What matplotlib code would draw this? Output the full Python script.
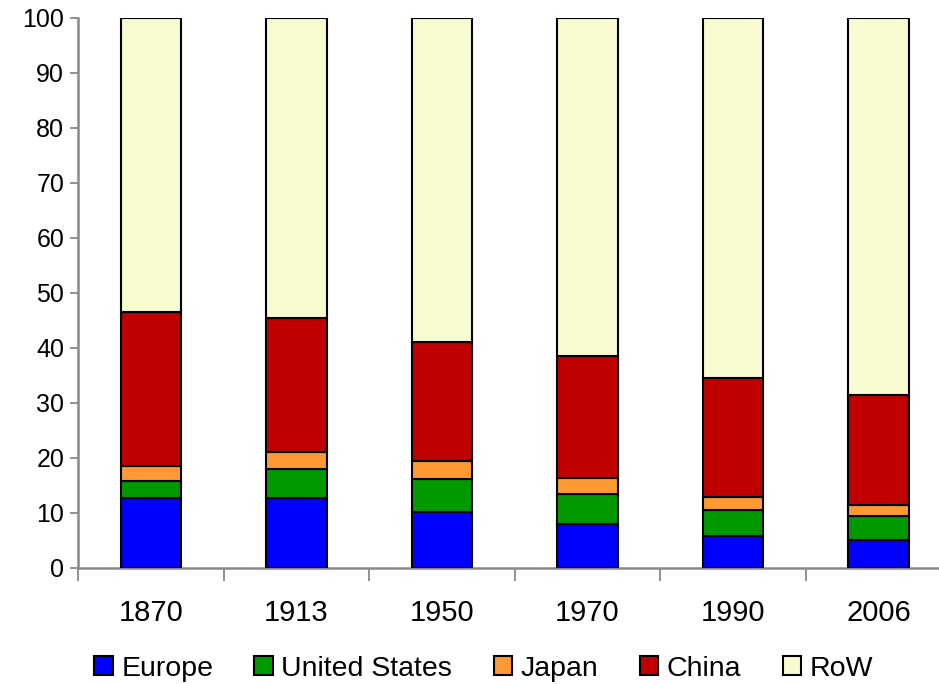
import numpy as np
import matplotlib
matplotlib.use('Agg')
import matplotlib.pyplot as plt

plt.rcParams['font.family'] = ['Liberation Sans', 'DejaVu Sans']

# Share of world population (%) by region
years = ['1870', '1913', '1950', '1970', '1990', '2006']
europe = [12.7, 12.7, 10.1, 8.0, 5.8, 5.0]
united_states = [3.1, 5.3, 6.0, 5.5, 4.7, 4.5]
japan = [2.7, 3.0, 3.4, 2.8, 2.4, 2.0]
china = [28.0, 24.4, 21.6, 22.2, 21.6, 20.0]
row = [53.5, 54.6, 58.9, 61.5, 65.5, 68.5]

series = [
    ('Europe', europe, '#0000FF'),
    ('United States', united_states, '#009900'),
    ('Japan', japan, '#FF9933'),
    ('China', china, '#C00000'),
    ('RoW', row, '#F8FBCF'),
]

fig = plt.figure(figsize=(9.39, 6.84), dpi=100)
ax = fig.add_axes([0.0831, 0.1696, 0.93, 0.8041])

x = np.arange(len(years))
bottom = np.zeros(len(years))
for name, vals, color in series:
    ax.bar(x, vals, width=0.415, bottom=bottom, color=color,
           edgecolor='black', linewidth=1.5, label=name, zorder=3)
    bottom += np.array(vals)

ax.set_xlim(-0.5, 5.5)
ax.set_ylim(0, 100)
ax.set_yticks(np.arange(0, 101, 10))
ax.tick_params(axis='y', labelsize=18, direction='out', length=6,
               width=1.3, color='#888888', pad=4)

# tick marks between categories, labels under the bars
ax.set_xticks(np.arange(-0.5, 6, 1))
ax.set_xticklabels([])
ax.set_xticks(x, minor=True)
ax.set_xticklabels(years, minor=True)
ax.tick_params(axis='x', which='major', direction='out', length=9,
               width=1.3, color='#888888')
ax.tick_params(axis='x', which='minor', length=0, labelsize=21, pad=22)

for side in ['top', 'right']:
    ax.spines[side].set_visible(False)
for side in ['left', 'bottom']:
    ax.spines[side].set_color('#888888')
    ax.spines[side].set_linewidth(1.8)

fig.legend(loc='center', bbox_to_anchor=(0.515, 0.022), ncol=5, frameon=False,
           fontsize=20.5, handlelength=0.65, handleheight=0.65,
           handletextpad=0.3, columnspacing=1.45)

fig.savefig('out.png', dpi=100)
plt.close(fig)
